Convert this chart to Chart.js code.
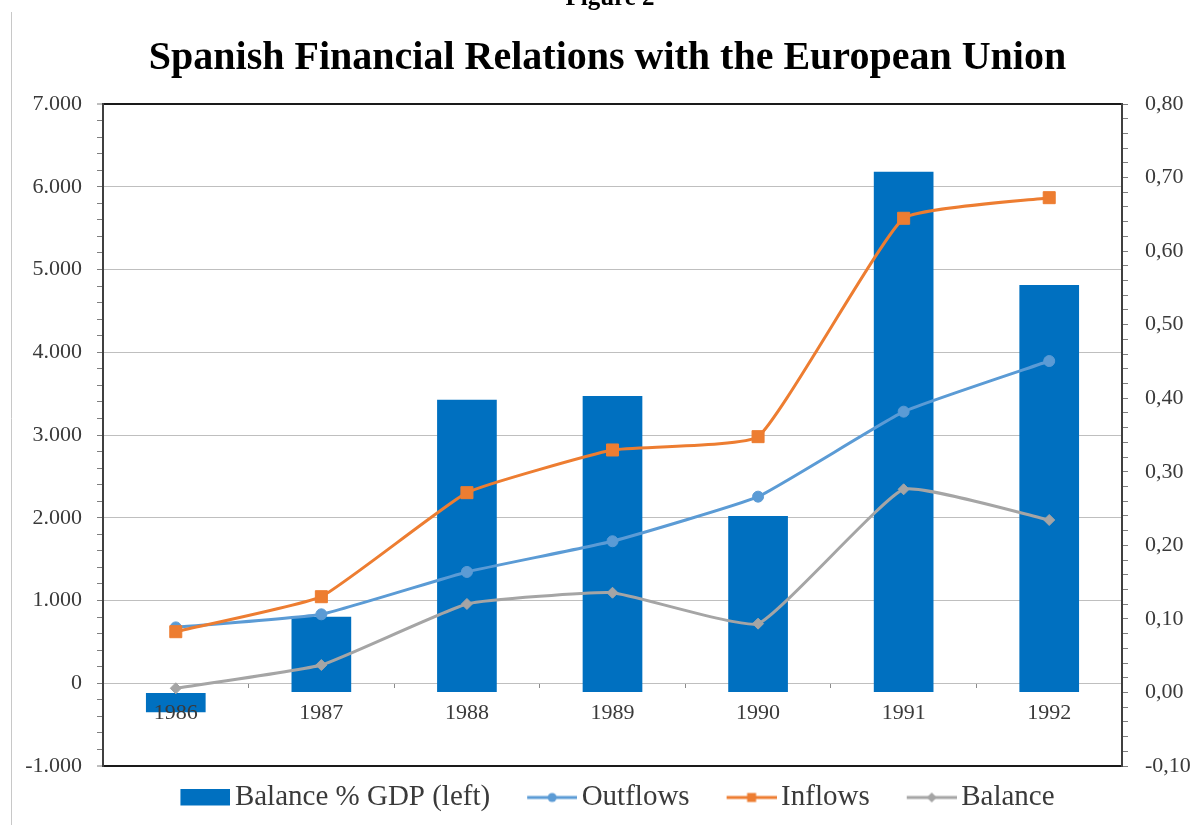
<!DOCTYPE html>
<html>
<head>
<meta charset="utf-8">
<title>Spanish Financial Relations with the European Union</title>
<script src="https://cdn.jsdelivr.net/npm/chart.js"></script>
<style>
  html, body { margin: 0; padding: 0; background: #fff; }
  #wrap { width: 1198px; height: 825px; }
</style>
</head>
<body>
<div id="wrap"><canvas id="chart" width="1198" height="825"></canvas></div>
<script>
// Values
const years = ['1986', '1987', '1988', '1989', '1990', '1991', '1992'];
const balanceGdp = [-0.027, 0.103, 0.398, 0.403, 0.240, 0.708, 0.554]; // bars, right axis
const outflows = [675, 833, 1345, 1716, 2255, 3282, 3894];
const inflows = [623, 1046, 2303, 2819, 2980, 5619, 5868];
const balance = [-61, 220, 958, 1094, 720, 2344, 1973];

const seriesNames = ['Balance % GDP (left)', 'Outflows', 'Inflows', 'Balance'];
const seriesColors = ['#0070C0', '#5B9BD5', '#ED7D31', '#A5A5A5'];
const legendKinds = ['bar', 'circle', 'rect', 'diamond'];

const SERIF = "'Liberation Serif', 'Times New Roman', serif";
const TEXT = '#3a3a3a';

// legend symbols: box for the bars, line + marker for the lines
function legendSymbol(kind, color) {
    const c = document.createElement('canvas');
    c.width = 80;
    c.height = 18;
    const g = c.getContext('2d');
    const x0 = 30, x1 = 80, cx = 55, cy = 9;
    g.fillStyle = color;
    g.strokeStyle = color;
    if (kind === 'bar') {
        g.fillRect(x0, 0, 50, 17);
        return c;
    }
    g.lineWidth = 3;
    g.beginPath();
    g.moveTo(x0, cy);
    g.lineTo(x1, cy);
    g.stroke();
    g.beginPath();
    if (kind === 'circle') {
        g.arc(cx, cy, 4.5, 0, Math.PI * 2);
    } else if (kind === 'rect') {
        g.rect(cx - 4.5, cy - 4.5, 9, 9);
    } else {
        g.moveTo(cx - 5, cy);
        g.lineTo(cx, cy - 5);
        g.lineTo(cx + 5, cy);
        g.lineTo(cx, cy + 5);
        g.closePath();
    }
    g.fill();
    return c;
}
const legendIcons = legendKinds.map((k, i) => legendSymbol(k, seriesColors[i]));

function fmtLeft(v) {
    if (v % 1000 !== 0) return '';
    if (v === 0) return '0';
    return (v < 0 ? '-' : '') + (Math.abs(v) / 1000) + '.000';
}
function fmtRight(v) {
    if (Math.round(v * 100) % 10 !== 0) return '';
    return (Math.round(v * 100) / 100).toFixed(2).replace('.', ',');
}

const pagePlugin = {
    id: 'page',
    beforeDraw(chart) {
        const ctx = chart.ctx;
        ctx.save();
        ctx.fillStyle = '#fff';
        ctx.fillRect(0, 0, chart.width, chart.height);
        ctx.strokeStyle = '#c8c8c8';
        ctx.lineWidth = 1;
        ctx.beginPath();
        ctx.moveTo(11.5, 12);
        ctx.lineTo(11.5, chart.height);
        ctx.stroke();
        ctx.restore();
    },
    afterDraw(chart) {
        const ctx = chart.ctx;
        ctx.save();
        ctx.fillStyle = '#000';
        ctx.font = 'bold 25px ' + SERIF;
        ctx.textAlign = 'center';
        ctx.textBaseline = 'alphabetic';
        ctx.fillText('Figure 2', 610, 5);
        ctx.restore();
    }
};

const lineBase = {
    type: 'line',
    yAxisID: 'y',
    borderWidth: 3,
    pointRadius: 5.5,
    pointBorderWidth: 1,
    tension: 0.12,
    fill: false
};

new Chart(document.getElementById('chart'), {
    type: 'bar',
    data: {
        labels: years,
        datasets: [
            {
                type: 'bar',
                label: seriesNames[0],
                data: balanceGdp,
                yAxisID: 'y2',
                backgroundColor: seriesColors[0],
                barPercentage: 0.41,
                categoryPercentage: 1,
                order: 3
            },
            Object.assign({}, lineBase, {
                label: seriesNames[1],
                data: outflows,
                borderColor: seriesColors[1],
                backgroundColor: seriesColors[1],
                pointStyle: 'circle',
                order: 2
            }),
            Object.assign({}, lineBase, {
                label: seriesNames[2],
                data: inflows,
                borderColor: seriesColors[2],
                backgroundColor: seriesColors[2],
                pointStyle: 'rect',
                pointRadius: 8.5,
                order: 1
            }),
            Object.assign({}, lineBase, {
                label: seriesNames[3],
                data: balance,
                borderColor: seriesColors[3],
                backgroundColor: seriesColors[3],
                pointStyle: 'rectRot',
                pointRadius: 5.5,
                order: 0
            })
        ]
    },
    options: {
        responsive: false,
        animation: false,
        layout: { padding: { top: 0, left: 24, right: 7, bottom: 3 } },
        plugins: {
            title: {
                display: true,
                text: 'Spanish Financial Relations with the European Union',
                color: '#000',
                font: { family: SERIF, size: 40, weight: 'bold' },
                padding: { top: 35, bottom: 21 }
            },
            legend: {
                position: 'bottom',
                labels: {
                    usePointStyle: true,
                    pointStyleWidth: 60,
                    padding: 17,
                    color: TEXT,
                    font: { family: SERIF, size: 29 },
                    generateLabels: chart => chart.data.datasets.map((ds, i) => ({
                        text: ds.label,
                        pointStyle: legendIcons[i],
                        fillStyle: seriesColors[i],
                        strokeStyle: seriesColors[i],
                        lineWidth: 0,
                        fontColor: TEXT,
                        hidden: !chart.isDatasetVisible(i),
                        datasetIndex: i
                    }))
                }
            },
            tooltip: { enabled: false }
        },
        scales: {
            x: {
                position: { y: 0 },
                offset: true,
                grid: {
                    offset: true,
                    drawOnChartArea: false,
                    drawTicks: true,
                    tickLength: 5,
                    color: '#8c8c8c'
                },
                border: { display: false },
                ticks: {
                    z: 1,
                    color: TEXT,
                    font: { family: SERIF, size: 22 },
                    padding: 12,
                    maxRotation: 0,
                    autoSkip: false
                }
            },
            y: {
                position: 'left',
                min: -1000,
                max: 7000,
                afterFit: scale => { scale.width = 79; },
                ticks: {
                    stepSize: 200,
                    maxTicksLimit: 100,
                    autoSkip: false,
                    padding: 15,
                    color: TEXT,
                    font: { family: SERIF, size: 22 },
                    callback: v => fmtLeft(v)
                },
                grid: {
                    color: c => {
                        const v = c.tick.value;
                        if (v === 7000 || v === -1000) return '#1a1a1a';
                        return v % 1000 === 0 ? '#bfbfbf' : 'rgba(0,0,0,0)';
                    },
                    lineWidth: c => (c.tick.value === 7000 || c.tick.value === -1000) ? 2 : 1,
                    tickColor: '#7f7f7f',
                    tickWidth: 1,
                    tickLength: 6
                },
                border: { display: true, color: '#404040', width: 2 }
            },
            y2: {
                position: 'right',
                min: -0.1,
                max: 0.8,
                afterFit: scale => { scale.width = 69; },
                ticks: {
                    stepSize: 0.02,
                    maxTicksLimit: 100,
                    autoSkip: false,
                    padding: 17,
                    color: TEXT,
                    font: { family: SERIF, size: 22 },
                    callback: v => fmtRight(v)
                },
                grid: {
                    drawOnChartArea: false,
                    tickColor: '#7f7f7f',
                    tickWidth: 1,
                    tickLength: 6
                },
                border: { display: true, color: '#404040', width: 2 }
            }
        }
    },
    plugins: [pagePlugin]
});
</script>
</body>
</html>
